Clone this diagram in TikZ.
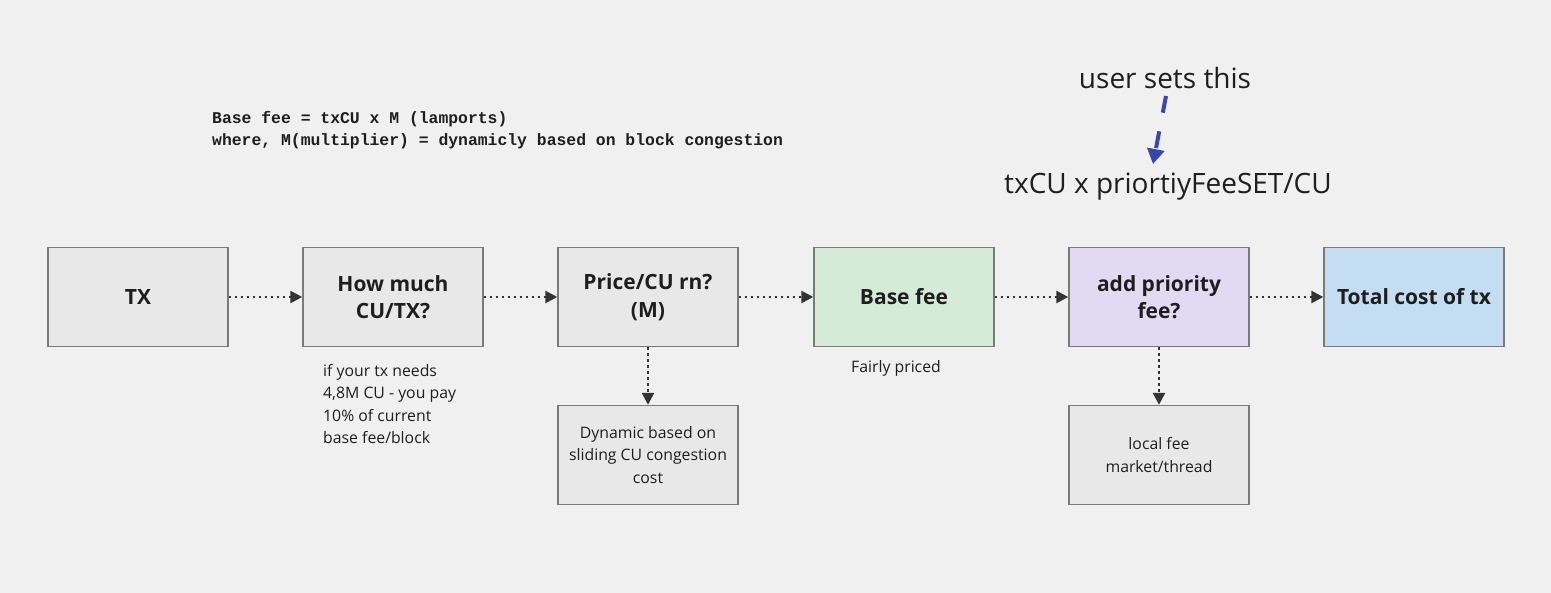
\documentclass[tikz,border=0pt]{standalone}
\usepackage{fontspec}
\setmainfont{Open Sans}
\newfontfamily\monobold{Liberation Mono}[BoldFont={* Bold}]
\usetikzlibrary{arrows.meta}
\definecolor{bgc}{HTML}{F0F0F0}
\definecolor{boxgray}{HTML}{E8E8E8}
\definecolor{boxline}{HTML}{7A7A7A}
\definecolor{boxgreen}{HTML}{D5EBD8}
\definecolor{boxpurple}{HTML}{E2D9F3}
\definecolor{boxblue}{HTML}{C5DDF1}
\definecolor{arrowc}{HTML}{333333}
\definecolor{bluearrow}{HTML}{3A46B0}
\definecolor{txtc}{HTML}{1E1E1E}
\tikzset{
  x=1pt, y=-1pt,
  flowbox/.style={draw=boxline, line width=1.4pt, fill=boxgray, minimum width=180pt, minimum height=99pt, inner sep=0pt, align=center, text=txtc, font=\fontsize{21}{27.5}\selectfont\bfseries},
  notebox/.style={flowbox, font=\fontsize{15.8}{22.5}\selectfont},
  flowarrow/.style={draw=arrowc, line width=2.6pt, dash pattern=on 2.4pt off 3.6pt, -{Triangle[length=12pt,width=12pt]}},
  note/.style={text=txtc, font=\fontsize{15.8}{22.5}\selectfont, inner sep=0pt},
}
\begin{document}
\begin{tikzpicture}
\fill[bgc] (0,0) rectangle (1551,593);
\useasboundingbox (0,0) rectangle (1551,593);

\node[flowbox] (tx) at (138,297) {TX};
\node[flowbox] (cu) at (393,297) {How much\\CU/TX?};
\node[flowbox] (price) at (648,297) {Price/CU rn?\\(M)};
\node[flowbox, fill=boxgreen] (base) at (904,297) {Base fee};
\node[flowbox, fill=boxpurple] (prio) at (1159,297) {add priority\\fee?};
\node[flowbox, fill=boxblue] (total) at (1414,297) {Total cost of tx};

\node[notebox] (dyn) at (648,455) {Dynamic based on\\sliding CU congestion\\cost};
\node[notebox] (local) at (1159,455) {local fee\\market/thread};

\draw[flowarrow] (tx.east) -- (cu.west);
\draw[flowarrow] (cu.east) -- (price.west);
\draw[flowarrow] (price.east) -- (base.west);
\draw[flowarrow] (base.east) -- (prio.west);
\draw[flowarrow] (prio.east) -- (total.west);
\draw[flowarrow] (price.south) -- (dyn.north);
\draw[flowarrow] (prio.south) -- (local.north);

\node[note, anchor=north west, align=left] (cunote) at (323,364) {if your tx needs\\4,8M CU - you pay\\10\% of current\\base fee/block};
\node[note] (fair) at (896,368) {Fairly priced};

\node[anchor=west, inner sep=0pt, text=txtc, align=left, font=\monobold\fontsize{16.4}{22}\selectfont\bfseries] (formula) at (212,130) {Base fee = txCU x M (lamports)\\where, M(multiplier) = dynamicly based on block congestion};

\node[inner sep=0pt, text=txtc, font=\fontsize{28}{32}\selectfont] (user) at (1165,78) {user sets this};
\node[inner sep=0pt, text=txtc, font=\fontsize{28}{32}\selectfont] (formula2) at (1168,187) {txCU x priortiyFeeSET/CU};
\coordinate (ua) at (1166,96);
\coordinate (ub) at (1153,164);
\draw[bluearrow, line width=4pt, dash pattern=on 17pt off 19pt, -{Triangle[length=15pt,width=17pt]}] (ua) -- (ub);
\end{tikzpicture}
\end{document}
